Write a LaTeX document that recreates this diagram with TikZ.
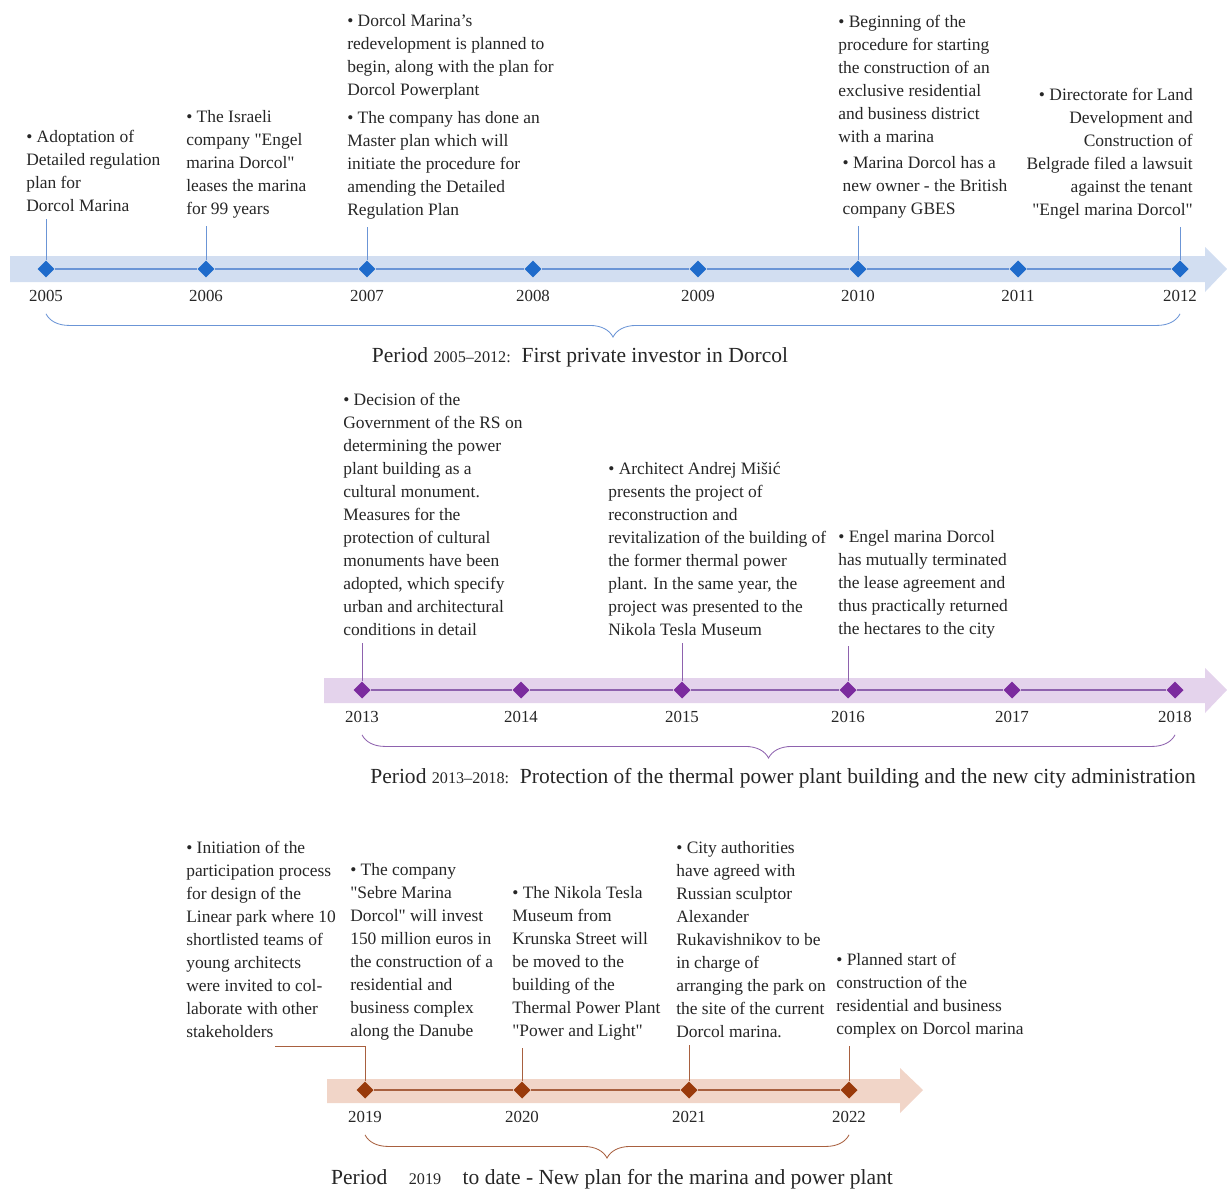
\documentclass[tikz,border=0pt]{standalone}
\usepackage{fontspec}
\setmainfont{Liberation Serif}[Ligatures=TeXOff]
\usetikzlibrary{shapes.geometric,positioning,decorations.pathreplacing}
\definecolor{inkgray}{HTML}{262626}
\definecolor{bluedot}{HTML}{1F6BCB}
\definecolor{blueline}{HTML}{6B95D6}
\definecolor{blueband}{HTML}{D2DEF1}
\definecolor{purpledot}{HTML}{7B2B9E}
\definecolor{purpleline}{HTML}{8E62AE}
\definecolor{purpleband}{HTML}{E4D3EC}
\definecolor{browndot}{HTML}{993A0B}
\definecolor{brownline}{HTML}{A8603F}
\definecolor{brownband}{HTML}{F1D5C8}

\begin{document}
\begin{tikzpicture}[x=0.025cm,y=-0.025cm,
  every node/.style={text=inkgray},
  event/.style={inner sep=0pt,align=left,anchor=north west,font=\fontsize{12.4}{16.37}\selectfont},
  yr/.style={inner sep=0pt,font=\fontsize{12}{14}\selectfont},
  period/.style={inner sep=0pt,font=\fontsize{15.3}{18}\selectfont},
  dot/.style={diamond,inner sep=0pt,minimum size=0.43cm},
  tline/.style={line width=0.9pt},
  conn/.style={shorten >=0.18cm},
  brc/.style={line width=0.6pt,decorate,decoration={brace,mirror,amplitude=0.58cm}},
  node distance=0.3cm]
\useasboundingbox (0,0) rectangle (1227,1189);

% 2005-2012
\fill[blueband] (10,256) -- (1205,256) -- (1205,247) -- (1227,269) -- (1205,292) -- (1205,282) -- (10,282) -- cycle;
\node[dot,fill=bluedot] (d2005) at (46,269) {};
\node[dot,fill=bluedot] (d2006) at (206,269) {};
\node[dot,fill=bluedot] (d2007) at (367,269) {};
\node[dot,fill=bluedot] (d2008) at (533,269) {};
\node[dot,fill=bluedot] (d2009) at (698,269) {};
\node[dot,fill=bluedot] (d2010) at (858,269) {};
\node[dot,fill=bluedot] (d2011) at (1018,269) {};
\node[dot,fill=bluedot] (d2012) at (1180,269) {};
\draw[tline,blueline] (d2005) -- (d2006) (d2006) -- (d2007) (d2007) -- (d2008) (d2008) -- (d2009)
  (d2009) -- (d2010) (d2010) -- (d2011) (d2011) -- (d2012);
\node[yr,below=of d2005] (y2005) {2005};
\node[yr,below=of d2006] (y2006) {2006};
\node[yr,below=of d2007] (y2007) {2007};
\node[yr,below=of d2008] (y2008) {2008};
\node[yr,below=of d2009] (y2009) {2009};
\node[yr,below=of d2010] (y2010) {2010};
\node[yr,below=of d2011] (y2011) {2011};
\node[yr,below=of d2012] (y2012) {2012};
\node[event] (t2005) at (26,130) {• Adoptation of\\Detailed regulation\\plan for\\Dorcol Marina};
\node[event] (t2006) at (186,110) {• The Israeli\\company "Engel\\marina Dorcol"\\leases the marina\\for 99 years};
\node[event] (t2007) at (347,14) {• Dorcol Marina’s\\redevelopment is planned to\\begin, along with the plan for\\Dorcol Powerplant\\[0.12cm]• The company has done an\\Master plan which will\\initiate the procedure for\\amending the Detailed\\Regulation Plan};
\node[event] (t2010) at (838,15) {• Beginning of the\\procedure for starting\\the construction of an\\exclusive residential\\and business district\\with a marina\\[0.08cm]\ • Marina Dorcol has a\\\ new owner - the British\\\ company GBES};
\node[event,anchor=north east,align=right] (t2012) at (1193,88) {• Directorate for Land\\Development and\\Construction of\\Belgrade filed a lawsuit\\against the tenant\\"Engel marina Dorcol"};
\draw[blueline,conn] (d2005) -- (d2005 |- t2005.south);
\draw[blueline,conn] (d2006) -- (d2006 |- t2006.south);
\draw[blueline,conn] (d2007) -- (d2007 |- t2007.south);
\draw[blueline,conn] (d2010) -- (d2010 |- t2010.south);
\draw[blueline,conn] (d2012) -- (d2012 |- t2012.south);
\draw[blueline,brc] ([yshift=-0.3cm]y2005.south) -- ([yshift=-0.3cm]y2012.south);
\node[period] (p1) at (580,357) {Period {\fontsize{11.5}{13}\selectfont 2005–2012:}\ \ First private investor in Dorcol};

% 2013-2018
\fill[purpleband] (324,678) -- (1205,678) -- (1205,668) -- (1227,690) -- (1205,713) -- (1205,703) -- (324,703) -- cycle;
\node[dot,fill=purpledot] (d2013) at (362,690) {};
\node[dot,fill=purpledot] (d2014) at (521,690) {};
\node[dot,fill=purpledot] (d2015) at (682,690) {};
\node[dot,fill=purpledot] (d2016) at (848,690) {};
\node[dot,fill=purpledot] (d2017) at (1012,690) {};
\node[dot,fill=purpledot] (d2018) at (1175,690) {};
\draw[tline,purpleline] (d2013) -- (d2014) (d2014) -- (d2015) (d2015) -- (d2016) (d2016) -- (d2017)
  (d2017) -- (d2018);
\node[yr,below=of d2013] (y2013) {2013};
\node[yr,below=of d2014] (y2014) {2014};
\node[yr,below=of d2015] (y2015) {2015};
\node[yr,below=of d2016] (y2016) {2016};
\node[yr,below=of d2017] (y2017) {2017};
\node[yr,below=of d2018] (y2018) {2018};
\node[event] (t2013) at (343,393) {• Decision of the\\Government of the RS on\\determining the power\\plant building as a\\cultural monument.\\Measures for the\\protection of cultural\\monuments have been\\adopted, which specify\\urban and architectural\\conditions in detail};
\node[event] (t2015) at (608,462) {• Architect Andrej Mišić\\presents the project of\\reconstruction and\\revitalization of the building of\\the former thermal power\\plant. In the same year, the\\project was presented to the\\Nikola Tesla Museum};
\node[event] (t2016) at (838,530) {• Engel marina Dorcol\\has mutually terminated\\the lease agreement and\\thus practically returned\\the hectares to the city};
\draw[purpleline,conn] (d2013) -- (d2013 |- t2013.south);
\draw[purpleline,conn] (d2015) -- (d2015 |- t2015.south);
\draw[purpleline,conn] (d2016) -- (d2016 |- t2016.south);
\draw[purpleline,brc] ([yshift=-0.3cm]y2013.south) -- ([yshift=-0.3cm]y2018.south);
\node[period] (p2) at (783,778) {Period {\fontsize{11.5}{13}\selectfont 2013–2018:}\ \ Protection of the thermal power plant building and the new city administration};

% 2019-
\fill[brownband] (327,1079) -- (900,1079) -- (900,1068) -- (923,1090) -- (900,1113) -- (900,1103) -- (327,1103) -- cycle;
\node[dot,fill=browndot] (d2019) at (365,1090) {};
\node[dot,fill=browndot] (d2020) at (522,1090) {};
\node[dot,fill=browndot] (d2021) at (689,1090) {};
\node[dot,fill=browndot] (d2022) at (849,1090) {};
\draw[tline,brownline] (d2019) -- (d2020) (d2020) -- (d2021) (d2021) -- (d2022);
\node[yr,below=of d2019] (y2019) {2019};
\node[yr,below=of d2020] (y2020) {2020};
\node[yr,below=of d2021] (y2021) {2021};
\node[yr,below=of d2022] (y2022) {2022};
\node[event] (t2019a) at (186,841) {• Initiation of the\\participation process\\for design of the\\Linear park where 10\\shortlisted teams of\\young architects\\were invited to col-\\laborate with other\\stakeholders};
\node[event] (t2019b) at (350,863) {• The company\\"Sebre Marina\\Dorcol" will invest\\150 million euros in\\the construction of a\\residential and\\business complex\\along the Danube};
\node[event] (t2020) at (512,886) {• The Nikola Tesla\\Museum from\\Krunska Street will\\be moved to the\\building of the\\Thermal Power Plant\\"Power and Light"};
\node[event] (t2021) at (676,841) {• City authorities\\have agreed with\\Russian sculptor\\Alexander\\Rukavishnikov to be\\in charge of\\arranging the park on\\the site of the current\\Dorcol marina.};
\node[event] (t2022) at (836,953) {• Planned start of\\construction of the\\residential and business\\complex on Dorcol marina};
\coordinate (c2019) at (275,1046);
\draw[brownline] (d2019) |- (c2019);
\draw[brownline,conn] (d2020) -- (d2020 |- t2020.south);
\draw[brownline,conn] (d2021) -- (d2021 |- t2021.south);
\draw[brownline,conn] (d2022) -- (d2022 |- t2022.south);
\draw[brownline,brc] ([yshift=-0.3cm]y2019.south) -- ([yshift=-0.3cm]y2022.south);
\node[period] (p3) at (612,1179) {Period\quad{\fontsize{11.5}{13}\selectfont 2019}\quad to date - New plan for the marina and power plant};
\end{tikzpicture}
\end{document}
